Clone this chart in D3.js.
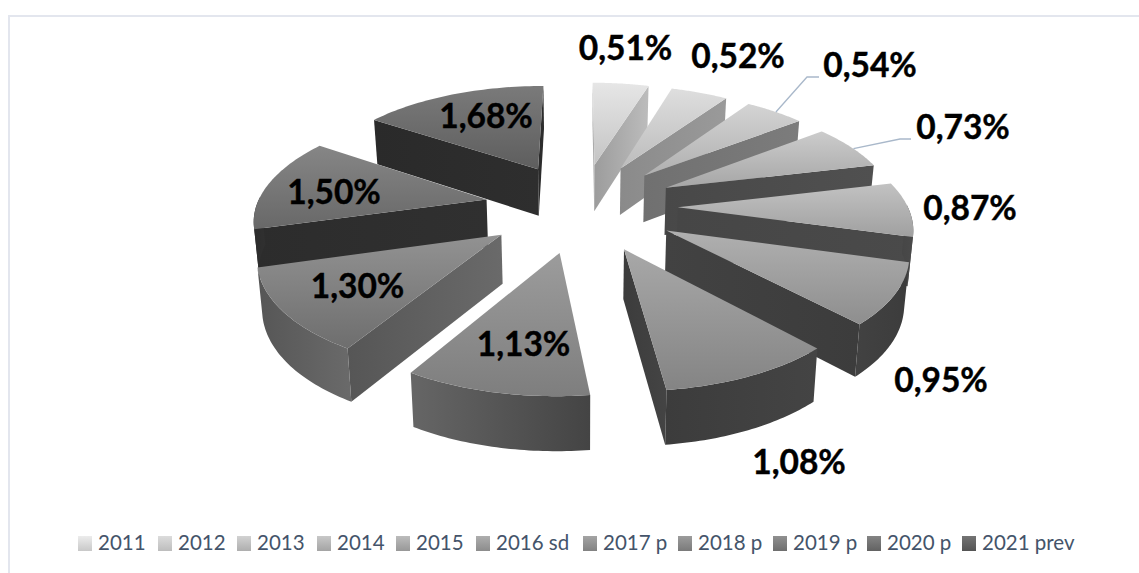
<!DOCTYPE html>
<html><head><meta charset="utf-8">
<script src="https://cdnjs.cloudflare.com/ajax/libs/d3/7.8.5/d3.min.js"></script>
<style>html,body{margin:0;background:#fff}svg{display:block}</style></head>
<body><svg id="c" width="1139" height="573"></svg>
<script>
const categories=["2011","2012","2013","2014","2015","2016 sd","2017 p","2018 p","2019 p","2020 p","2021 prev"];
const values=[0.51,0.52,0.54,0.73,0.87,0.95,1.08,1.13,1.30,1.50,1.68];
const valueLabels=["0,51%","0,52%","0,54%","0,73%","0,87%","0,95%","1,08%","1,13%","1,30%","1,50%","1,68%"];
const topLight=["#e6e6e6","#dedede","#d4d4d4","#cccccc","#c2c2c2","#b0b0b0","#a8a8a8","#9c9c9c","#929292","#868686","#7a7a7a"];
const topDark=["#c4c4c4","#bcbcbc","#b0b0b0","#a6a6a6","#a0a0a0","#8e8e8e","#848484","#7e7e7e","#6e6e6e","#686868","#5e5e5e"];
const faceA=["#9c9c9c","#8a8a8a","#707070","#484848","#464646","#424242","#3c3c3c","#666666","#565656","#2c2c2c","#2a2a2a"];
const faceB=["#bcbcbc","#9a9a9a","#7c7c7c","#505050","#4a4a4a","#3c3c3c","#444444","#444444","#6a6a6a","#303030","#2e2e2e"];
const legendA=["#ececec","#dcdcdc","#d2d2d2","#c8c8c8","#bcbcbc","#aeaeae","#a4a4a4","#9c9c9c","#909090","#848484","#747474"];
const legendB=["#c8c8c8","#bdbdbd","#aeaeae","#a4a4a4","#989898","#8c8c8c","#828282","#7a7a7a","#6e6e6e","#626262","#545454"];
const labelX=[625.5,738,870,963,970,941,799,523.5,357.5,334,486];
const labelY=[60,68,77,139,220,392,474,356,298,204,128];
const legendX=[78,158,237,317,396,476,583,678,773,867,962];

const svg=d3.select("#c");
const defs=svg.append("defs");
const cx=581,cy=206.5,Rx=230,Ry=106,persp=0.15,explode=0.42,depth=48,depthP=0.09,lowShrink=0.016;
const pie=d3.pie().sort(null).value(d=>d);
const arcs=pie(values);
const sx=d3.scaleLinear().domain([-1,1]).range([cx-Rx,cx+Rx]);
const sy=d3.scaleLinear().domain([-1,1]).range([cy-Ry,cy+Ry]);
function project(X,Y,low){
  const k=1/(1-persp*Y);
  const x=sx(X*k*(low?1-lowShrink:1)), y=sy(Y*k)+(low?depth/(1-depthP*Y):0);
  return [x,y];
}
const line=d3.line();
function linGrad(id,pts,c1,c2,vertical){
  const xs=pts.map(p=>p[0]),ys=pts.map(p=>p[1]);
  const g=defs.append("linearGradient").attr("id",id).attr("gradientUnits","userSpaceOnUse");
  if(vertical) g.attr("x1",0).attr("x2",0).attr("y1",d3.min(ys)).attr("y2",d3.max(ys));
  else g.attr("y1",0).attr("y2",0).attr("x1",d3.min(xs)).attr("x2",d3.max(xs));
  g.append("stop").attr("offset",0).attr("stop-color",c1);
  g.append("stop").attr("offset",1).attr("stop-color",c2);
  return `url(#${id})`;
}
function signedArea(p){return d3.polygonArea(p);}
const order=d3.range(arcs.length).sort((a,b)=>{
  const m=i=>-Math.cos((arcs[i].startAngle+arcs[i].endAngle)/2);
  return m(a)-m(b);
});
const pieG=svg.append("g");
order.forEach(i=>{
  const a=arcs[i],mid=(a.startAngle+a.endAngle)/2;
  const ox=explode*Math.sin(mid),oy=-explode*Math.cos(mid);
  const samples=d3.range(0,41).map(j=>a.startAngle+(a.endAngle-a.startAngle)*j/40);
  const rim=samples.map(t=>[ox+Math.sin(t),oy-Math.cos(t)]);
  const tipT=project(ox,oy,false),tipB=project(ox,oy,true);
  const rimT=rim.map(p=>project(p[0],p[1],false)),rimB=rim.map(p=>project(p[0],p[1],true));
  const g=pieG.append("g");
  // cut faces: only those facing the viewer
  const faces=[[tipT,rimT[0],rimB[0],tipB],[tipT,rimT[40],rimB[40],tipB]];
  const front=[signedArea(faces[0])>0, signedArea(faces[1])<0];
  faces.forEach((f,k)=>{
    if(!front[k])return;
    g.append("path").attr("d",line(f)+"Z")
     .attr("fill",linGrad(`f${i}_${k}`,f,faceA[i],faceB[i],false));
  });
  // rim wall: the stretch whose surface faces the viewer
  const vis=d3.range(0,40).filter(j=>Math.cos(samples[j])<0.02);
  if(vis.length){
    const j0=vis[0],j1=vis[vis.length-1]+1;
    const w=rimT.slice(j0,j1+1).concat(rimB.slice(j0,j1+1).reverse());
    g.append("path").attr("d",line(w)+"Z")
     .attr("fill",linGrad(`w${i}`,w,faceA[i],faceB[i],false));
  }
  const top=[tipT].concat(rimT);
  g.append("path").attr("d",line(top)+"Z")
   .attr("fill",linGrad(`t${i}`,top,topLight[i],topDark[i],true));
});
// frame
svg.append("path").attr("d",line([[9,573],[9,16],[1139,16]]))
   .attr("fill","none").attr("stroke","#e3e6ee").attr("stroke-width",2);
// leader lines from the rim of the slice to the label
function rimPoint(i,f){
  const a=arcs[i],mid=(a.startAngle+a.endAngle)/2,t=a.startAngle+(a.endAngle-a.startAngle)*f;
  return project(explode*Math.sin(mid)+Math.sin(t),-explode*Math.cos(mid)-Math.cos(t),false);
}
[[2,0.52,[807,77],[819,77]],[3,0.55,[900,139],[911,139]]].forEach(([i,f,b,c])=>{
  svg.append("path").attr("d",line([rimPoint(i,f),b,c])).attr("fill","none")
     .attr("stroke","#a9b8ca").attr("stroke-width",1.3);
});
svg.append("g").selectAll("text").data(valueLabels).join("text")
  .attr("x",(d,i)=>labelX[i]).attr("y",(d,i)=>labelY[i]).attr("text-anchor","middle")
  .attr("font-family","Lato").attr("font-weight",700).attr("font-size",33.5).attr("fill","#000")
  .attr("stroke","#000").attr("stroke-width",0.4)
  .text(d=>d);
const lg=svg.append("g");
categories.forEach((c,i)=>{
  const id=`l${i}`;
  const gr=defs.append("linearGradient").attr("id",id).attr("x1",0).attr("x2",0).attr("y1",0).attr("y2",1);
  gr.append("stop").attr("offset",0).attr("stop-color",legendA[i]);
  gr.append("stop").attr("offset",1).attr("stop-color",legendB[i]);
  lg.append("rect").attr("x",legendX[i]).attr("y",536).attr("width",14).attr("height",15).attr("fill",`url(#${id})`);
  lg.append("text").attr("x",legendX[i]+20).attr("y",550).attr("font-family","Lato").attr("font-size",20.5)
    .attr("fill","#44546a").text(c);
});
</script></body></html>
